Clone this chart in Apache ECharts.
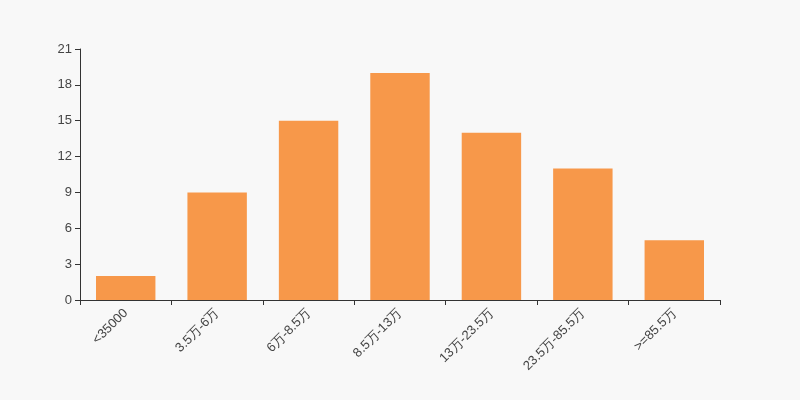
<!DOCTYPE html>
<html>
<head>
<meta charset="utf-8">
<script src="https://cdn.jsdelivr.net/npm/echarts@6/dist/echarts.min.js"></script>
<style>
  html, body { margin: 0; padding: 0; background: #f8f8f8; }
  #main { width: 800px; height: 400px; }
</style>
</head>
<body>
<div id="main"></div>
<script>
const categories = ['<35000', '3.5万-6万', '6万-8.5万', '8.5万-13万', '13万-23.5万', '23.5万-85.5万', '>=85.5万']
const values = [2, 9, 15, 19, 14, 11, 5]

const myChart = echarts.init(document.getElementById('main'), null, { renderer: 'canvas' })
const option = {
  backgroundColor: '#f8f8f8',
  animation: false,
  grid: {
    left: 80,
    right: 80,
    top: 49,
    bottom: 100
  },
  xAxis: {
    type: 'category',
    data: categories,
    axisLine: { lineStyle: { color: '#333' } },
    axisTick: { show: true, lineStyle: { color: '#333' } },
    axisLabel: {
      rotate: 45,
      margin: 11,
      color: '#444',
      fontSize: 13,
      interval: 0,
      fontFamily: 'Liberation Sans, Arial, sans-serif'
    }
  },
  yAxis: {
    type: 'value',
    min: 0,
    max: 21,
    interval: 3,
    axisLine: { show: true, lineStyle: { color: '#333' } },
    axisTick: { show: true, lineStyle: { color: '#333' } },
    splitLine: { show: false },
    axisLabel: { color: '#444', fontSize: 13, fontFamily: 'Liberation Sans, Arial, sans-serif' }
  },
  series: [
    {
      type: 'bar',
      data: values,
      barWidth: '65%',
      itemStyle: {
        color: '#f7984a'
      }
    }
  ]
}
myChart.setOption(option)
</script>
</body>
</html>
